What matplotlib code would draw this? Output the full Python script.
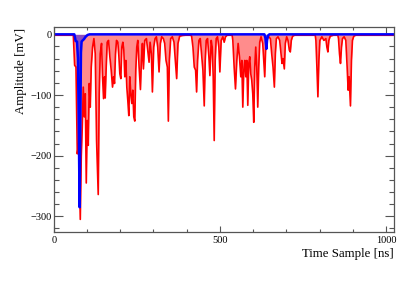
import matplotlib
matplotlib.use("Agg")
import matplotlib.pyplot as plt
from matplotlib.ticker import MultipleLocator

# Red waveform (time [ns], amplitude [mV])
red_t = [0, 59, 63, 67, 71, 75, 80, 83, 86, 89, 92, 95, 98, 101, 104, 107, 110, 113, 117, 121,
         125, 129, 134, 137, 140, 144, 147, 150, 153, 155, 158, 161, 165, 169, 173, 177, 180, 183,
         186, 189, 193, 196, 199, 202, 205, 208, 211, 214, 217, 220, 223, 226, 229, 232, 235, 238,
         241, 244, 247, 250, 253, 257, 261, 264, 267, 270, 274, 279, 283, 287, 290, 294, 297, 301,
         305, 309, 313, 317, 321, 325, 330, 334, 338, 342, 345, 348, 352, 357, 362, 366, 370, 374,
         379, 387, 397, 412, 415, 419, 423, 427, 430, 433, 437, 441, 445, 449, 453, 456, 459, 463,
         467, 470, 474, 477, 480, 483, 486, 489, 493, 497, 500, 504, 509, 513, 517, 522, 537, 539,
         543, 547, 551, 555, 559, 563, 566, 569, 572, 575, 578, 581, 584, 587, 590, 593, 596, 599,
         602, 605, 608, 611, 614, 617, 620, 624, 629, 632, 635, 638, 642, 647, 652, 656, 660, 664,
         667, 670, 675, 680, 684, 687, 690, 694, 697, 701, 705, 709, 712, 715, 719, 725, 787, 789,
         792, 795, 798, 801, 807, 813, 819, 822, 825, 828, 832, 842, 855, 857, 860, 863, 866, 869,
         874, 879, 883, 886, 889, 893, 896, 899, 903, 909, 1024]
red_v = [-1.5, -1.5, -51, -54, -197, -180, -305, -200, -153, -87, -136, -98, -245, -142, -183, -81,
         -120, -54, -21, -7, -32, -175, -264, -98, -32, -15, -70, -106, -70, -105, -54, -13, -10,
         -37, -59, -87, -70, -81, -32, -10, -13, -35, -65, -73, -21, -13, -26, -70, -43, -87, -109,
         -134, -70, -98, -114, -92, -136, -143, -59, -21, -10, -54, -91, -43, -15, -57, -10, -7,
         -26, -46, -13, -32, -95, -21, -7, -4, -21, -62, -15, -4, -7, -15, -43, -54, -143, -43, -7,
         -4, -13, -43, -73, -15, -3, -2, -1.5, -1.5, -3, -21, -54, -59, -95, -43, -10, -7, -32, -59,
         -118, -43, -10, -7, -37, -68, -10, -21, -70, -175, -43, -7, -4, -21, -62, -10, -4, -13, -4,
         -1.5, -1.5, -10, -54, -90, -43, -15, -37, -70, -43, -120, -59, -43, -70, -43, -117, -48,
         -37, -65, -76, -98, -145, -54, -21, -54, -120, -54, -13, -4, -15, -43, -70, -21, -7, -4,
         -7, -32, -54, -87, -32, -7, -4, -10, -32, -48, -40, -57, -15, -4, -10, -26, -29, -10, -3,
         -1.5, -1.5, -10, -54, -103, -43, -10, -4, -10, -7, -21, -29, -10, -3, -1.5, -1.5, -7, -32,
         -48, -21, -7, -4, -10, -54, -92, -70, -118, -43, -10, -3, -1.5, -1.5]

# Blue waveform
blue_t = [0, 62, 64, 66, 70, 73, 76, 78, 80, 82, 84, 87, 91, 96, 102, 108, 634, 637, 640, 642,
          645, 649, 1024]
blue_v = [0, 0, -5, -11, -12, -40, -180, -285, -160, -30, -12, -10, -8, -4, -1, 0, 0, -6, -24,
          -10, -2, 0, 0]

x_ticks = [0, 500, 1000]
y_ticks = [0, -100, -200, -300]

W, H = 415, 283
fig = plt.figure(figsize=(W / 100, H / 100), dpi=100)
L, R, T, B = 53.7, 394, 27.3, 232.3
ax = fig.add_axes([L / W, 1 - B / H, (R - L) / W, (B - T) / H])

ax.fill_between(red_t, red_v, 0, color="#ff0000", alpha=0.45, linewidth=0)
ax.plot(red_t, red_v, color="#ff0000", lw=1.2)
ax.fill_between(blue_t, blue_v, 0, color="#0000ff", alpha=0.45, linewidth=0)
ax.plot(blue_t, blue_v, color="#0000ff", lw=1.8)

ax.set_xlim(0, 1024)
ax.set_ylim(-326.3, 11.6)
ax.set_xticks(x_ticks)
ax.set_yticks(y_ticks)
ax.xaxis.set_minor_locator(MultipleLocator(100))
ax.yaxis.set_minor_locator(MultipleLocator(20))

font = "Liberation Serif"
for sp in ax.spines.values():
    sp.set_color("#555555")
    sp.set_linewidth(0.9)
ax.tick_params(which="both", direction="in", top=True, right=True, color="#555555",
               width=0.8, labelsize=7.5, labelcolor="black")
ax.tick_params(axis="x", which="major", length=4.3, pad=2.5)
ax.tick_params(axis="x", which="minor", length=2.2)
ax.tick_params(axis="y", which="major", length=6.5, pad=1.5)
ax.tick_params(axis="y", which="minor", length=3.5)
for lab in ax.get_xticklabels() + ax.get_yticklabels():
    lab.set_fontfamily(font)

fig.text(R / W, 1 - 254 / H, "Time Sample [ns]", ha="right", va="center",
         fontsize=9.3, family=font)
fig.text(21 / W, 1 - 28 / H, "Amplitude [mV]", ha="center", va="top", rotation=90,
         fontsize=9.3, family=font)

fig.savefig("out.png", dpi=100)
